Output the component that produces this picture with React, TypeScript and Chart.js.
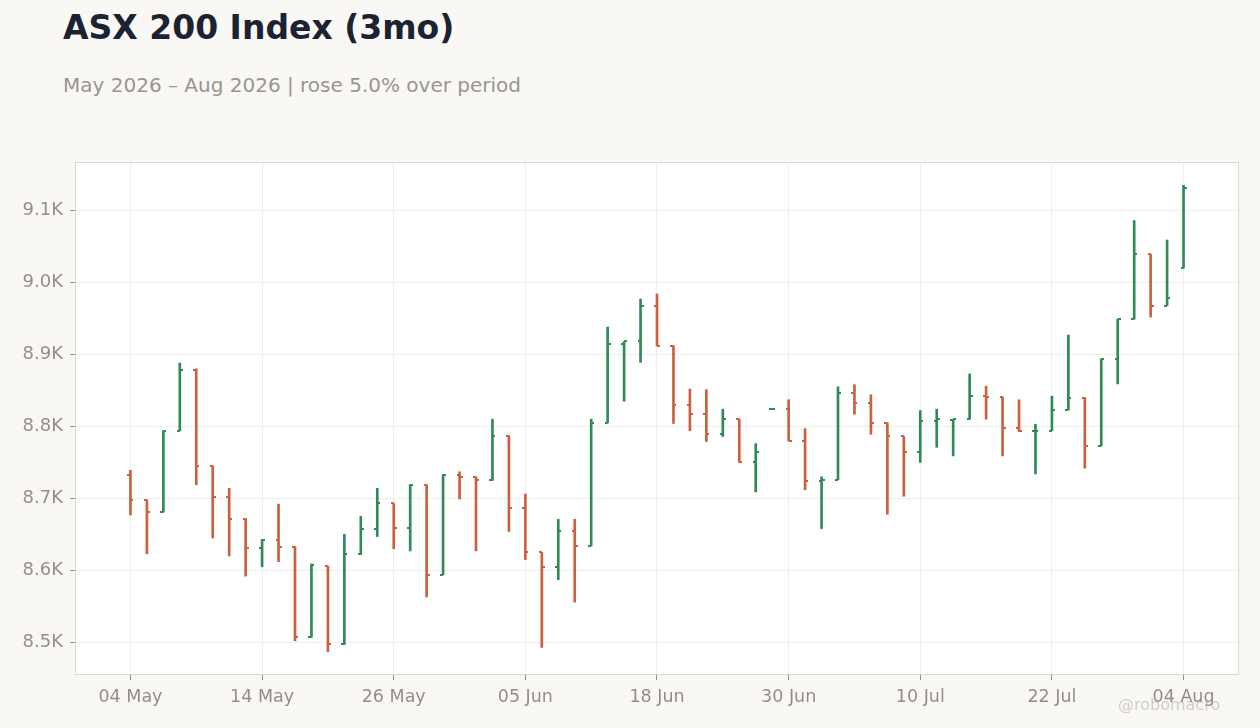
import React, { useRef, useEffect } from 'react';
import { Chart, registerables } from 'chart.js';

Chart.register(...registerables);

// trading days (ASX), May - Aug 2026
const dates = [
  '04 May', '05 May', '06 May', '07 May', '08 May', '11 May', '12 May', '13 May', '14 May', '15 May',
  '18 May', '19 May', '20 May', '21 May', '22 May', '25 May', '26 May', '27 May', '28 May', '29 May',
  '01 Jun', '02 Jun', '03 Jun', '04 Jun', '05 Jun', '09 Jun', '10 Jun', '11 Jun', '12 Jun', '15 Jun',
  '16 Jun', '17 Jun', '18 Jun', '19 Jun', '22 Jun', '23 Jun', '24 Jun', '25 Jun', '26 Jun', '29 Jun',
  '30 Jun', '01 Jul', '02 Jul', '03 Jul', '06 Jul', '07 Jul', '08 Jul', '09 Jul', '10 Jul', '13 Jul',
  '14 Jul', '15 Jul', '16 Jul', '17 Jul', '20 Jul', '21 Jul', '22 Jul', '23 Jul', '24 Jul', '27 Jul',
  '28 Jul', '29 Jul', '30 Jul', '31 Jul', '04 Aug',
];

const opens = [
  8732, 8698, 8681, 8794, 8879, 8745, 8702, 8672, 8631, 8642,
  8633, 8507, 8606, 8498, 8623, 8658, 8693, 8659, 8719, 8594,
  8733, 8730, 8726, 8787, 8687, 8625, 8605, 8655, 8634, 8805,
  8915, 8918, 8967, 8912, 8830, 8817, 8789, 8810, 8750, 8824,
  8824, 8780, 8724, 8726, 8846, 8832, 8805, 8786, 8764, 8807,
  8809, 8810, 8842, 8841, 8798, 8793, 8794, 8823, 8840, 8773,
  8894, 8949, 9039, 8968, 9020,
];
const highs = [
  8739, 8698, 8794, 8888, 8880, 8745, 8714, 8672, 8643, 8692,
  8633, 8609, 8606, 8650, 8675, 8714, 8693, 8719, 8719, 8733,
  8737, 8730, 8810, 8787, 8706, 8625, 8671, 8671, 8810, 8938,
  8918, 8977, 8984, 8912, 8852, 8851, 8824, 8810, 8776, 8824,
  8837, 8797, 8730, 8855, 8858, 8844, 8805, 8786, 8822, 8824,
  8810, 8873, 8856, 8841, 8837, 8803, 8842, 8927, 8840, 8894,
  8949, 9086, 9039, 9059, 9135,
];
const lows = [
  8677, 8623, 8681, 8794, 8719, 8645, 8620, 8592, 8605, 8612,
  8502, 8507, 8487, 8497, 8622, 8647, 8630, 8627, 8563, 8594,
  8699, 8627, 8725, 8654, 8615, 8493, 8587, 8556, 8634, 8805,
  8835, 8889, 8912, 8804, 8794, 8779, 8786, 8750, 8709, 8824,
  8780, 8712, 8658, 8726, 8817, 8789, 8678, 8703, 8750, 8771,
  8759, 8810, 8810, 8759, 8793, 8734, 8794, 8823, 8742, 8773,
  8859, 8949, 8952, 8968, 9020,
];
const closes = [
  8698, 8681, 8794, 8879, 8745, 8702, 8672, 8631, 8642, 8633,
  8507, 8607, 8498, 8623, 8658, 8693, 8659, 8719, 8594, 8733,
  8730, 8726, 8787, 8687, 8625, 8605, 8655, 8634, 8805, 8915,
  8918, 8967, 8912, 8830, 8817, 8789, 8810, 8750, 8765, 8824,
  8780, 8724, 8726, 8846, 8832, 8805, 8786, 8764, 8807, 8810,
  8810, 8842, 8841, 8798, 8793, 8794, 8823, 8840, 8773, 8894,
  8949, 9039, 8968, 8978, 9131,
];

const xTickIdx = [0, 8, 16, 24, 32, 40, 48, 56, 64];
const yTicks = [8500, 8600, 8700, 8800, 8900, 9000, 9100];

const UP = '#2e8b57';
const DOWN = '#c9603f';
const FONT = '"DejaVu Sans", sans-serif';

// little open (left) / close (right) ticks used as point images
function tickImage(color: string, side: 'left' | 'right') {
  const c = document.createElement('canvas');
  c.width = 6;
  c.height = 2;
  const g = c.getContext('2d')!;
  g.fillStyle = color;
  g.fillRect(side === 'left' ? 0 : 3, 0, 3, 2);
  return c;
}

const frame = {
  id: 'frame',
  beforeDraw(chart: any) {
    const { ctx, chartArea: a } = chart;
    ctx.save();
    ctx.fillStyle = '#ffffff';
    ctx.fillRect(a.left, a.top, a.right - a.left, a.bottom - a.top);
    ctx.restore();
  },
  beforeDatasetsDraw(chart: any) {
    const { ctx, chartArea: a } = chart;
    ctx.save();
    ctx.strokeStyle = '#dcd7cf';
    ctx.lineWidth = 1;
    ctx.strokeRect(a.left + 0.5, a.top + 0.5, a.right - a.left - 1, a.bottom - a.top - 1);
    ctx.restore();
  },
};

const OhlcChart = () => {
  const chartRef = useRef<HTMLCanvasElement>(null);

  useEffect(() => {
    const imgs = {
      upL: tickImage(UP, 'left'),
      upR: tickImage(UP, 'right'),
      dnL: tickImage(DOWN, 'left'),
      dnR: tickImage(DOWN, 'right'),
    };
    const isUp = (i: number) => closes[i] >= opens[i];
    const colors = opens.map((_, i) => (isUp(i) ? UP : DOWN));

    const chart = new Chart(chartRef.current!, {
      type: 'bar',
      data: {
        datasets: [
          {
            type: 'bar',
            data: lows.map((l, i) => ({ x: i, y: [l, highs[i]] })) as any,
            backgroundColor: colors,
            barThickness: 2,
            borderWidth: 0,
            order: 2,
          },
          {
            type: 'line',
            data: opens.map((v, i) => ({ x: i, y: v })),
            showLine: false,
            pointRadius: 3,
            pointStyle: (c: any) => (isUp(c.dataIndex) ? imgs.upL : imgs.dnL),
            order: 1,
          },
          {
            type: 'line',
            data: closes.map((v, i) => ({ x: i, y: v })),
            showLine: false,
            pointRadius: 3,
            pointStyle: (c: any) => (isUp(c.dataIndex) ? imgs.upR : imgs.dnR),
            order: 1,
          },
        ] as any,
      },
      options: {
        animation: false,
        responsive: true,
        maintainAspectRatio: false,
        layout: { padding: { top: 12, right: 21, left: 0, bottom: 0 } },
        plugins: { legend: { display: false }, tooltip: { enabled: false } },
        events: [],
        scales: {
          x: {
            type: 'linear',
            offset: false,
            min: -3.37,
            max: 67.37,
            afterBuildTicks: (s: any) => {
              s.ticks = xTickIdx.map((v) => ({ value: v }));
            },
            afterFit: (s: any) => {
              s.height = 53;
              s.paddingLeft = 0;
              s.paddingRight = 0;
            },
            ticks: {
              callback: (v: any) => dates[v] ?? '',
              color: '#938e88',
              font: { family: FONT, size: 17.5 },
              padding: 7,
              maxRotation: 0,
              autoSkip: false,
            },
            grid: { offset: false, color: '#f0eeeb', tickColor: '#938e88', tickLength: 5 },
            border: { display: false },
          },
          y: {
            min: 8454.6,
            max: 9167.4,
            afterBuildTicks: (s: any) => {
              s.ticks = yTicks.map((v) => ({ value: v }));
            },
            afterFit: (s: any) => {
              s.width = 75;
              s.paddingTop = 0;
              s.paddingBottom = 0;
            },
            ticks: {
              callback: (v: any) => (v / 1000).toFixed(1) + 'K',
              color: '#938e88',
              font: { family: FONT, size: 18 },
              padding: 7,
            },
            grid: { color: '#f0eeeb', tickColor: '#938e88', tickLength: 5 },
            border: { display: false },
          },
        },
      },
      plugins: [frame],
    });

    return () => chart.destroy();
  }, []);

  return <canvas ref={chartRef}></canvas>;
};

export default function App() {
  useEffect(() => {
    document.body.style.margin = '0';
  }, []);

  return (
    <div
      style={{
        position: 'fixed',
        left: 0,
        top: 0,
        width: 1260,
        height: 728,
        background: '#f9f8f5',
        fontFamily: FONT,
        overflow: 'hidden',
      }}
    >
      <div
        style={{
          position: 'absolute',
          left: 63,
          top: 11,
          fontSize: 33,
          lineHeight: 1,
          fontWeight: 'bold',
          color: '#1b2333',
          whiteSpace: 'nowrap',
        }}
      >
        ASX 200 Index (3mo)
      </div>
      <div
        style={{
          position: 'absolute',
          left: 63,
          top: 75,
          fontSize: 20,
          lineHeight: 1,
          color: '#9a9590',
          whiteSpace: 'nowrap',
        }}
      >
        May 2026 – Aug 2026 | rose 5.0% over period
      </div>
      <div style={{ position: 'absolute', left: 0, top: 150, width: 1260, height: 578 }}>
        <OhlcChart />
      </div>
      <div
        style={{
          position: 'absolute',
          left: 1118,
          top: 697,
          fontSize: 16,
          lineHeight: 1,
          color: 'rgba(160,152,145,0.45)',
          whiteSpace: 'nowrap',
        }}
      >
        @robomacro
      </div>
    </div>
  );
}
